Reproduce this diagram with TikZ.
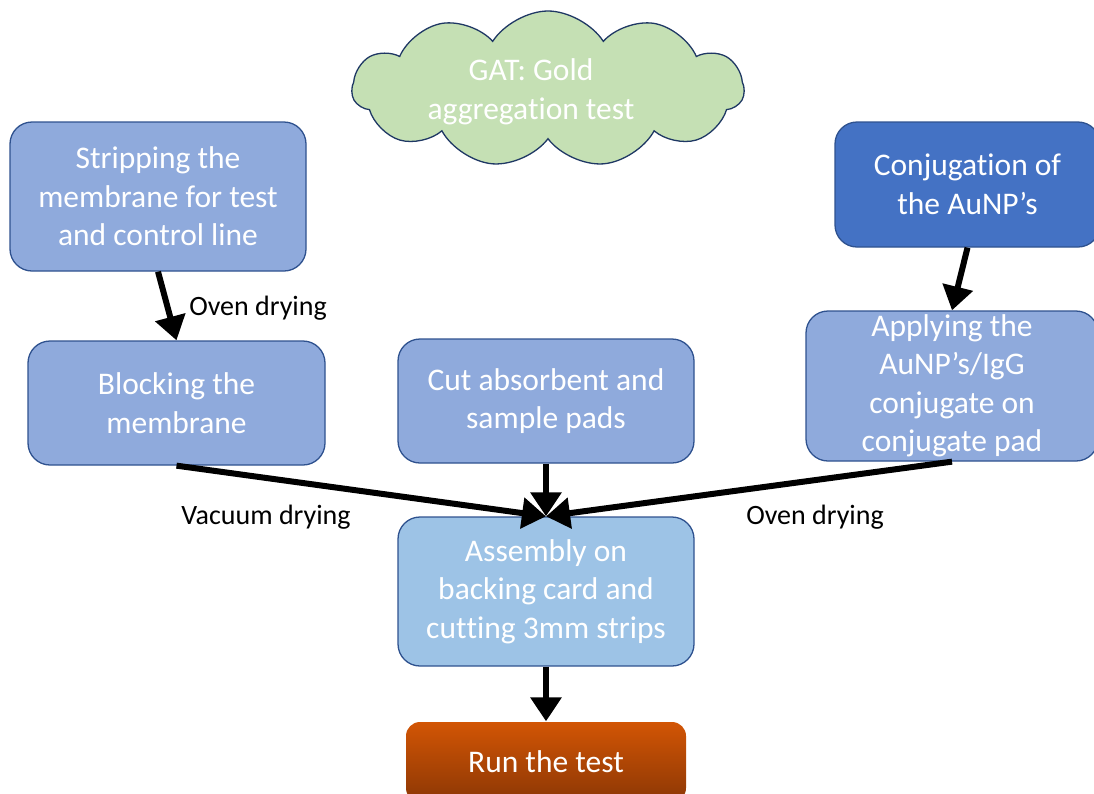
\documentclass[tikz,border=0pt]{standalone}
\usepackage{fontspec}
\setmainfont{Carlito}[RawFeature={-liga;-clig;-calt;-dlig}]
\usetikzlibrary{arrows.meta,shapes.symbols}
\definecolor{boxblue}{HTML}{8FAADC}
\definecolor{darkblue}{HTML}{4472C4}
\definecolor{lightblue}{HTML}{9DC3E6}
\definecolor{edgeblue}{HTML}{2F528F}
\definecolor{cloudgreen}{HTML}{C5E0B4}
\definecolor{cloudedge}{HTML}{1F3864}
\definecolor{runtop}{RGB}{210,85,5}
\definecolor{runbot}{RGB}{140,55,5}
\newcommand{\nolig}{\kern0pt{}}
\begin{document}
\begin{tikzpicture}[x=1pt,y=-1pt,
 stepbox/.style={draw=edgeblue, line width=1.3pt, rounded corners=22pt, align=center, text=white,
   font=\fontsize{31.5}{38.5}\selectfont, inner sep=0pt},
 flow/.style={line width=6pt, -{Triangle[width=30pt,length=24pt]}},
 lbl/.style={font=\fontsize{28}{34}\selectfont, inner sep=0pt}]
\useasboundingbox (0,0) rectangle (1094,793);
% cloud
\node[cloud, cloud puffs=11, cloud puff arc=115, aspect=2.7, draw=cloudedge, line width=1.3pt,
  fill=cloudgreen, minimum width=392pt, minimum height=156pt, inner sep=0pt] (cloud) at (548,89) {};
\node[align=center, text=white, font=\fontsize{31.5}{39}\selectfont] (gat) at (531,91.5) {GAT: Gold\\aggregat\nolig ion test};
% boxes
\node[stepbox, fill=boxblue, minimum width=296pt, minimum height=149pt] (strip) at (158,196.5)
  {Stripping the\\membrane for test\\and control line};
\node[stepbox, fill=darkblue, minimum width=265pt, minimum height=125pt] (conj) at (967.5,184.5)
  {Conjugat\nolig ion of\\the AuNP’s};
\node[stepbox, fill=boxblue, minimum width=297pt, minimum height=124pt] (block) at (176.5,403)
  {Blocking the\\membrane};
\node[stepbox, fill=boxblue, minimum width=296pt, minimum height=124pt] (cut) at (546,401)
  {Cut absorbent and\\sample pads};
\node[stepbox, fill=boxblue, minimum width=292pt, minimum height=150pt] (apply) at (952,386)
  {Applying the\\AuNP’s/IgG\\conjugate on\\conjugate pad};
\node[stepbox, fill=lightblue, minimum width=296pt, minimum height=149pt] (assem) at (546,591.5)
  {Assembly on\\backing card and\\cut\nolig t\nolig ing 3mm strips};
\node[stepbox, draw=none, top color=runtop, bottom color=runbot, rounded corners=14pt,
  minimum width=280pt, minimum height=80pt] (run) at (546,762) {Run the test};
% arrows
\draw[flow] (strip.south) -- (block.north);
\draw[flow] (conj.south) -- (apply.north);
\draw[flow] (block.south) -- (assem.north);
\draw[flow] (cut.south) -- (assem.north);
\draw[flow] (apply.south) -- (assem.north);
\draw[flow] (assem.south) -- (run.north);
% labels
\node[lbl] (l1) at (258,308) {Oven drying};
\node[lbl] (l2) at (266,517) {Vacuum drying};
\node[lbl] (l3) at (815,517) {Oven drying};
\end{tikzpicture}
\end{document}
